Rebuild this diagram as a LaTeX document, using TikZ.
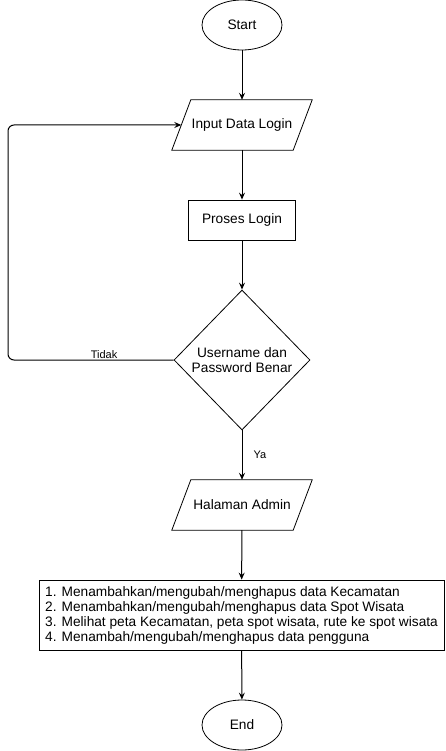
\documentclass[tikz,border=0pt]{standalone}
\usepackage{fontspec}
\setmainfont{Liberation Sans}
\usetikzlibrary{shapes, arrows.meta, positioning}

\newcommand{\ioframe}[1]{%
  \draw[line width=0.8pt] ([xshift=9.5pt]#1.north west) -- ([xshift=9.5pt]#1.north east)
    -- ([xshift=-9.5pt]#1.south east) -- ([xshift=-9.5pt]#1.south west) -- cycle;}

\begin{document}
\begin{tikzpicture}[
  x=1pt, y=-1pt,
  every node/.style={font=\fontsize{13.7}{15}\selectfont},
  term/.style={draw, line width=0.8pt, ellipse, minimum width=80pt, minimum height=50pt, inner sep=0pt},
  io/.style={rectangle, minimum width=121pt, minimum height=50pt, inner sep=0pt},
  proc/.style={draw, line width=0.8pt, rectangle, minimum width=107pt, minimum height=40pt},
  decision/.style={draw, line width=0.8pt, diamond, minimum width=136pt, minimum height=140pt, inner sep=0pt, align=center},
  listbox/.style={draw, line width=0.8pt, rectangle, align=left, minimum width=405pt, minimum height=70pt, inner sep=1pt},
  flow/.style={-{Stealth[length=7pt, width=6pt, inset=2.5pt]}, line width=1pt},
  lbl/.style={font=\fontsize{11}{13}\selectfont, inner sep=1pt}
]
  \useasboundingbox (0,0) rectangle (445,751);

  \node[term] (start) at (242,25) {Start};
  \node[io] (input) at (242,125) {Input Data Login};
  \node[proc] (proses) at (242,220) {Proses Login};
  \node[decision] (cek) at (242,360) {Username dan\\Password Benar};
  \node[io] (admin) at (242,505) {Halaman Admin};
  \node[listbox] (menu) at (241.5,615) {
    1. Menambahkan/mengubah/menghapus data Kecamatan\\
    2. Menambahkan/mengubah/menghapus data Spot Wisata\\
    3. Melihat peta Kecamatan, peta spot wisata, rute ke spot wisata\\
    4. Menambah/mengubah/menghapus data pengguna
  };
  \node[term] (end) at (242,725) {End};
  \coordinate (balik) at (8,360);

  \ioframe{input}
  \ioframe{admin}

  \draw[flow] (start) -- (input);
  \draw[flow] (input) -- (proses);
  \draw[flow] (proses) -- (cek);
  \draw[flow] (cek.south) -- node[lbl, right, xshift=10pt] {Ya} (admin);
  \draw[flow, rounded corners=6pt] (cek.west) -- node[lbl, above, pos=0.42] {Tidak} (balik) |- (input.west);
  \draw[flow] (admin) -- (menu);
  \draw[flow] (menu) -- (end);
\end{tikzpicture}
\end{document}
